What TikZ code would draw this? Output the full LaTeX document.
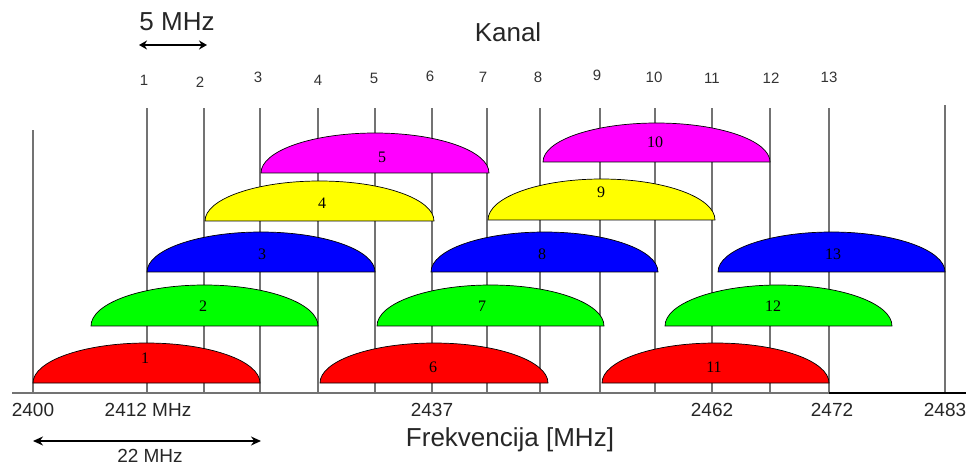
\documentclass[tikz,border=0pt]{standalone}
\usepackage{fontspec}
\setmainfont{Liberation Sans}
\newfontfamily\brojfont{Liberation Serif}
\usetikzlibrary{arrows.meta}

\definecolor{crvena}{RGB}{255,0,0}
\definecolor{zelena}{RGB}{0,255,0}
\definecolor{plava}{RGB}{0,0,255}
\definecolor{zuta}{RGB}{255,255,0}
\definecolor{ljubicasta}{RGB}{255,0,255}

\tikzset{
  kanalcrta/.style={draw=black!55, line width=1.4pt},
  kupola/.style={draw=black, line width=0.7pt},
  broj/.style={font=\brojfont\fontsize{16}{18}\selectfont, inner sep=0pt},
  vrh/.style={font=\fontsize{15}{17}\selectfont, text=black!80, inner sep=0pt},
  oznaka/.style={font=\fontsize{19}{22}\selectfont, text=black!85, inner sep=0pt},
  naslov/.style={font=\fontsize{26}{30}\selectfont, text=black!85, inner sep=0pt},
}

\begin{document}
\begin{tikzpicture}[x=1pt,y=1pt]
\useasboundingbox (0,0) rectangle (966,466);

% Linije kanala
\draw[kanalcrta] (33,73) -- (33,336);
\draw[kanalcrta] (147,73) -- (147,358);
\draw[kanalcrta] (204,73) -- (204,358);
\draw[kanalcrta] (260,73) -- (260,358);
\draw[kanalcrta] (318,73) -- (318,358);
\draw[kanalcrta] (375,73) -- (375,358);
\draw[kanalcrta] (432,73) -- (432,358);
\draw[kanalcrta] (487,73) -- (487,358);
\draw[kanalcrta] (540,73) -- (540,358);
\draw[kanalcrta] (600,73) -- (600,358);
\draw[kanalcrta] (655,73) -- (655,358);
\draw[kanalcrta] (712,73) -- (712,358);
\draw[kanalcrta] (770,73) -- (770,358);
\draw[kanalcrta] (829,73) -- (829,358);
\draw[kanalcrta] (945,73) -- (945,361);

% Os frekvencije
\draw[kanalcrta] (12,73) -- (829,73);
\draw[line width=2pt] (829,73) -- (966,73);

% Kanali 1, 6, 11
\draw[kupola, fill=crvena] (33,83) arc[start angle=180, end angle=0, x radius=113.5, y radius=40] -- cycle;
\node[broj] (d1) at (145,108) {1};
\draw[kupola, fill=crvena] (320,83) arc[start angle=180, end angle=0, x radius=114, y radius=40] -- cycle;
\node[broj] (d6) at (433,99) {6};
\draw[kupola, fill=crvena] (602,83) arc[start angle=180, end angle=0, x radius=113.5, y radius=40] -- cycle;
\node[broj] (d11) at (714,99) {11};

% Kanali 2, 7, 12
\draw[kupola, fill=zelena] (91,140) arc[start angle=180, end angle=0, x radius=113.5, y radius=41] -- cycle;
\node[broj] (d2) at (203,160) {2};
\draw[kupola, fill=zelena] (377,140) arc[start angle=180, end angle=0, x radius=113.5, y radius=41] -- cycle;
\node[broj] (d7) at (482,160) {7};
\draw[kupola, fill=zelena] (665,140) arc[start angle=180, end angle=0, x radius=113.5, y radius=41] -- cycle;
\node[broj] (d12) at (773,160) {12};

% Kanali 3, 8, 13
\draw[kupola, fill=plava] (147,194) arc[start angle=180, end angle=0, x radius=114, y radius=40] -- cycle;
\node[broj] (d3) at (262,212) {3};
\draw[kupola, fill=plava] (431,194) arc[start angle=180, end angle=0, x radius=113.5, y radius=40] -- cycle;
\node[broj] (d8) at (542,212) {8};
\draw[kupola, fill=plava] (718,194) arc[start angle=180, end angle=0, x radius=113.5, y radius=40] -- cycle;
\node[broj] (d13) at (833,212) {13};

% Kanali 4, 9
\draw[kupola, fill=zuta] (205,245) arc[start angle=180, end angle=0, x radius=114.5, y radius=40] -- cycle;
\node[broj] (d4) at (322,263) {4};
\draw[kupola, fill=zuta] (488,246) arc[start angle=180, end angle=0, x radius=113.5, y radius=41] -- cycle;
\node[broj] (d9) at (601,274) {9};

% Kanali 5, 10
\draw[kupola, fill=ljubicasta] (261,293) arc[start angle=180, end angle=0, x radius=114, y radius=40] -- cycle;
\node[broj] (d5) at (382,309) {5};
\draw[kupola, fill=ljubicasta] (543,304) arc[start angle=180, end angle=0, x radius=113.5, y radius=39] -- cycle;
\node[broj] (d10) at (655,324) {10};

% Brojevi kanala
\node[vrh] (k1) at (144,386) {1};
\node[vrh] (k2) at (200,384) {2};
\node[vrh] (k3) at (258,389) {3};
\node[vrh] (k4) at (318,386) {4};
\node[vrh] (k5) at (374,388) {5};
\node[vrh] (k6) at (430,390) {6};
\node[vrh] (k7) at (483,389) {7};
\node[vrh] (k8) at (538,389) {8};
\node[vrh] (k9) at (597,391) {9};
\node[vrh] (k10) at (654,389) {10};
\node[vrh] (k11) at (712,388) {11};
\node[vrh] (k12) at (771,388) {12};
\node[vrh] (k13) at (829,389) {13};

% Naslovi
\node[naslov] (kanal) at (508,434) {Kanal};
\node[naslov] (pet) at (177,444) {5 MHz};
\coordinate (p1) at (139,421);
\coordinate (p2) at (207,421);
\draw[{Stealth[length=8pt,width=9pt]}-{Stealth[length=8pt,width=9pt]}, line width=2pt] (p1) -- (p2);

% Frekvencije
\node[oznaka] (f2400) at (33,56) {2400};
\node[oznaka] (f2412) at (148,56) {2412 MHz};
\node[oznaka] (f2437) at (432,56) {2437};
\node[oznaka] (f2462) at (712,56) {2462};
\node[oznaka] (f2472) at (832,56) {2472};
\node[oznaka] (f2483) at (945,56) {2483};
\node[naslov] (frek) at (510,26) {Frekvencija [MHz]};

% Sirina kanala
\coordinate (s1) at (33,25);
\coordinate (s2) at (261,25);
\draw[{Stealth[length=10pt,width=9pt]}-{Stealth[length=10pt,width=9pt]}, line width=1.5pt] (s1) -- (s2);
\node[oznaka] (dvadeset) at (150,10) {22 MHz};
\end{tikzpicture}
\end{document}
